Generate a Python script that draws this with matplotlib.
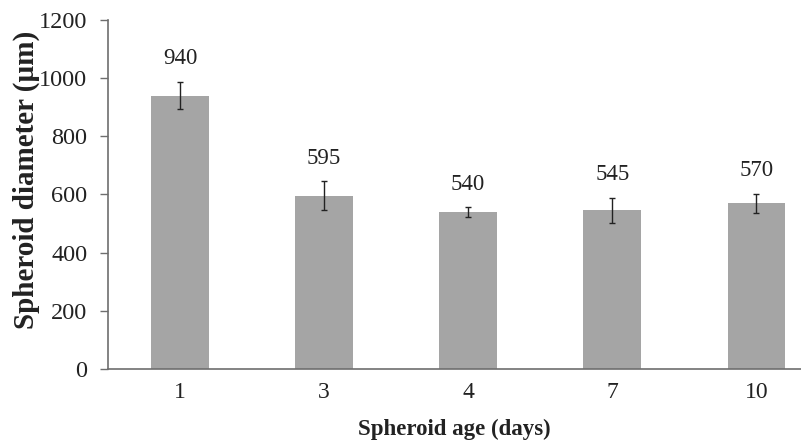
import matplotlib
matplotlib.use("Agg")
import matplotlib.pyplot as plt

# spheroid diameter by age
ages = ["1", "3", "4", "7", "10"]
diam = [940, 595, 540, 545, 570]
err = [47, 50, 16, 43, 33]

plt.rcParams['font.family'] = ['Liberation Serif', 'DejaVu Serif']

fig = plt.figure(figsize=(8.01, 4.44), dpi=100)
ax = fig.add_axes([108/801, 75/444, 1 - 108/801, 349/444])

x = range(len(ages))
ax.bar(x, diam, width=0.4, color="#a5a5a5", zorder=2)
ax.errorbar(x, diam, yerr=err, fmt="none", ecolor="#222222",
            elinewidth=1.0, capsize=2.5, capthick=1.0, zorder=3)

for i in x:
    ax.text(i, diam[i] + err[i] + 80, str(diam[i]), ha="center", va="center",
            fontsize=16.5, color="#222222")

ax.set_ylim(0, 1200)
ax.set_yticks(range(0, 1201, 200))
ax.set_xlim(-0.5, 4.31)
ax.set_xticks(list(x))
ax.set_xticklabels(ages)

for s in ["top", "right"]:
    ax.spines[s].set_visible(False)
for s in ["left", "bottom"]:
    ax.spines[s].set_color("#6e6e6e")
    ax.spines[s].set_linewidth(1.2)

ax.tick_params(axis="y", length=6, width=1, color="#6e6e6e",
               labelsize=17.5, labelcolor="#222222", pad=9)
ax.tick_params(axis="x", length=0, labelsize=17, labelcolor="#222222", pad=9)

# y title sits a bit above the axis middle
fig.text(26/801, 1 - 180/444, "Spheroid diameter (µm)", rotation=90,
         ha="center", va="center", fontsize=21, fontweight="bold",
         color="#222222")
ax.set_xlabel("Spheroid age (days)", fontsize=16.5, fontweight="bold",
              color="#222222", labelpad=12)

fig.savefig("out.png", dpi=100)
